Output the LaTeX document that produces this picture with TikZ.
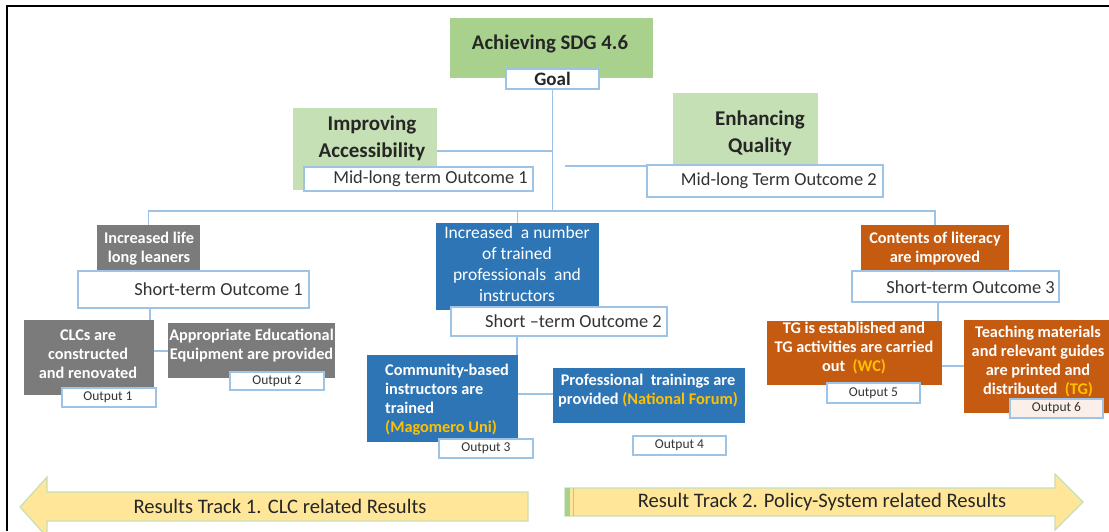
\documentclass[tikz,border=0pt]{standalone}
\usepackage{fontspec}
\setmainfont{Carlito}
\definecolor{ggreen}{HTML}{A9D18E}
\definecolor{lgreen}{HTML}{C5E0B4}
\definecolor{gbox}{HTML}{7B7B7B}
\definecolor{bbox}{HTML}{2E75B6}
\definecolor{obox}{HTML}{C55A11}
\definecolor{gold}{HTML}{FFC000}
\definecolor{lblue}{HTML}{9DC3E6}
\definecolor{dtext}{HTML}{333333}
\definecolor{afill}{HTML}{FFE699}
\definecolor{peach}{HTML}{FBEFE9}
\newcommand\myfs[2]{\fontsize{#1}{#2}\selectfont}
\tikzset{
  cbox/.style={rectangle, inner sep=0pt, outer sep=0pt},
  lbl/.style={cbox, draw=lblue, line width=1.1pt, fill=white},
  conn/.style={draw=lblue, line width=1.5pt},
  wtxt/.style={inner sep=0pt, text=white, align=center, font=\myfs{16.3}{19}\bfseries},
  ltxt/.style={inner sep=0pt, text=dtext, font=\myfs{18.4}{22}},
  otxt/.style={inner sep=0pt, text=dtext, font=\myfs{13.5}{16}},
  htxt/.style={inner sep=0pt, text=black!85, align=center, font=\myfs{21}{27}\bfseries},
  atxt/.style={inner sep=0pt, text=black!85, font=\myfs{20.6}{24}},
  arrowshape/.style={fill=afill, draw=lgreen, line width=1.2pt, line join=miter},
}
\begin{document}
\begin{tikzpicture}[x=1pt,y=-1pt]
\useasboundingbox (0,0) rectangle (1109,531);
\clip (0,0) rectangle (1109,531);
\fill[white] (0,0) rectangle (1109,531);

% ---------- junction coordinates
\coordinate (busy) at (0,211);
\coordinate (j0) at (552,151);
\coordinate (j00) at (565,166);
\coordinate (k1) at (150,351);
\coordinate (k2) at (517,394);
\coordinate (k3) at (938,366);

% ---------- upper boxes
\node[cbox, fill=ggreen, minimum width=203pt, minimum height=60pt] (goal) at (551.5,48) {};
\node[cbox, fill=lgreen, minimum width=144pt, minimum height=82pt] (imp) at (365,149) {};
\node[cbox, fill=lgreen, minimum width=145pt, minimum height=72pt] (enh) at (745.5,129) {};

\node[cbox, fill=gbox, minimum width=103pt, minimum height=47pt] (ill) at (148.5,248.5) {};
\node[cbox, fill=bbox, minimum width=163pt, minimum height=87pt] (inc) at (517.5,266.5) {};
\node[cbox, fill=obox, minimum width=148pt, minimum height=47pt] (col) at (935,248.5) {};

% lower colored boxes
\node[cbox, fill=gbox, minimum width=130pt, minimum height=75pt] (clc) at (89,357.5) {};
\node[cbox, fill=gbox, minimum width=167pt, minimum height=55pt] (app) at (251.5,350.5) {};
\node[cbox, fill=bbox, minimum width=151pt, minimum height=87pt] (com) at (442.5,398.5) {};
\node[cbox, fill=bbox, minimum width=192pt, minimum height=55pt] (pro) at (649,395.5) {};
\node[cbox, fill=obox, minimum width=175pt, minimum height=64pt] (tg) at (854.5,353) {};
\node[cbox, fill=obox, minimum width=145pt, minimum height=93pt] (tea) at (1036.5,366.5) {};

% label boxes
\node[lbl, minimum width=93pt, minimum height=20pt] (goallbl) at (552.5,79) {};
\node[lbl, minimum width=229pt, minimum height=24pt] (ml1) at (418.5,179) {};
\node[lbl, minimum width=236pt, minimum height=32pt] (ml2) at (765,181) {};
\node[lbl, minimum width=231pt, minimum height=37pt] (st1) at (193.5,289.5) {};
\node[lbl, minimum width=216pt, minimum height=29pt] (st2) at (559,321.5) {};
\node[lbl, minimum width=207pt, minimum height=31pt] (st3) at (955.5,286.5) {};
\node[lbl, minimum width=94pt, minimum height=19pt] (o1) at (109,397.5) {};
\node[lbl, minimum width=94pt, minimum height=18pt] (o2) at (277,381) {};
\node[lbl, minimum width=94pt, minimum height=19pt] (o3) at (486,448.5) {};
\node[lbl, minimum width=93pt, minimum height=19pt] (o4) at (679.5,445.5) {};
\node[lbl, minimum width=93pt, minimum height=20pt] (o5) at (873.5,393) {};
\node[lbl, fill=peach, minimum width=93pt, minimum height=19pt] (o6) at (1056.5,408.5) {};

% ---------- connectors (visible pieces between boxes)
\draw[conn] (goallbl.south) -- (goallbl.south |- busy);
\draw[conn] (imp.east |- j0) -- (j0);
\draw[conn] (j00) -- (ml2.west |- j00);
\draw[conn] (ill.north) -- (ill.north |- busy) -- (col.north |- busy) -- (col.north);
\draw[conn] (inc.north) -- (inc.north |- busy);
\draw[conn] (st1.south -| k1) -- (clc.north -| k1);
\draw[conn] (clc.east |- k1) -- (app.west |- k1);
\draw[conn] (st2.south -| k2) -- (com.north -| k2);
\draw[conn] (com.east |- k2) -- (pro.west |- k2);
\draw[conn] (st3.south -| k3) -- (tg.north -| k3);
\draw[conn] (tg.east |- k3) -- (tea.west |- k3);

% ---------- texts
\node[htxt, font=\myfs{20.8}{24}\bfseries] (goalt) at (550,44) {Achieving SDG 4.6};
\node[inner sep=0pt, text=black!85, font=\myfs{19}{22}\bfseries] (goallblt) at (552.5,79) {Goal};
\node[htxt] (impt) at (372,138.5) {Improving\\Accessibility};
\node[htxt] (enht) at (760,133.5) {Enhancing\\Quality};
\node[ltxt, anchor=east] (ml1t) at (528,179) {Mid-long term Outcome 1};
\node[ltxt, anchor=east] (ml2t) at (877,181) {Mid-long Term Outcome 2};

\node[wtxt] (illt) at (149,248.5) {Increased life\\long leaners};
\node[ltxt, anchor=east] (st1t) at (303,289.5) {Short-term Outcome 1};
\node[wtxt] (clct) at (88,354) {CLCs are\\constructed\\and renovated};
\node[otxt] (o1t) at (108,397.5) {Output 1};
\node[wtxt] (appt) at (251.5,346) {Appropriate Educational\\Equipment are provided};
\node[otxt] (o2t) at (277,381) {Output 2};

\node[wtxt, font=\myfs{17.5}{21}] (inct) at (517,263.5) {Increased \ a number\\of trained\\professionals \ and\\instructors};
\node[ltxt, anchor=east] (st2t) at (662,321.5) {Short --term Outcome 2};
\node[wtxt, align=left, anchor=west] (comt) at (385,400) {Community-based\\instructors are\\trained\\{\color{gold}(Magomero Uni)}};
\node[otxt] (o3t) at (486,448.5) {Output 3};
\node[wtxt] (prot) at (648,390.5) {Professional \ trainings are\\provided {\color{gold}(National Forum)}};
\node[otxt] (o4t) at (679.5,445.5) {Output 4};

\node[wtxt] (colt) at (935,248.5) {Contents of literacy\\are improved};
\node[ltxt, anchor=east] (st3t) at (1055,287) {Short-term Outcome 3};
\node[wtxt] (tgt) at (854,348.5) {TG is established and\\TG activities are carried\\out \ {\color{gold}(WC)}};
\node[otxt] (o5t) at (873.5,393) {Output 5};
\node[wtxt] (teat) at (1038,361.5) {Teaching materials\\and relevant guides\\are printed and\\distributed \ {\color{gold}(TG)}};
\node[otxt] (o6t) at (1056.5,408.5) {Output 6};

% ---------- bottom arrows
\path[arrowshape] (20,507) -- (47,477) -- (47,492) -- (528,492) -- (528,521) -- (47,521) -- (47,537) -- cycle;
\path[arrowshape] (565,488) -- (1055,488) -- (1055,474) -- (1083,502) -- (1055,530) -- (1055,516) -- (565,516) -- cycle;
\fill[ggreen] (565,488) rectangle (570,516);
\draw[ggreen, line width=1pt] (573,488) -- (573,516);
\node[atxt] (tr1) at (280,506) {Results Track 1. CLC related Results};
\node[atxt] (tr2) at (822,502) {Result Track 2. Policy-System related Results};

% ---------- frame
\draw[black, line width=2pt] (7,531) -- (7,6) -- (1109,6);
\end{tikzpicture}
\end{document}
